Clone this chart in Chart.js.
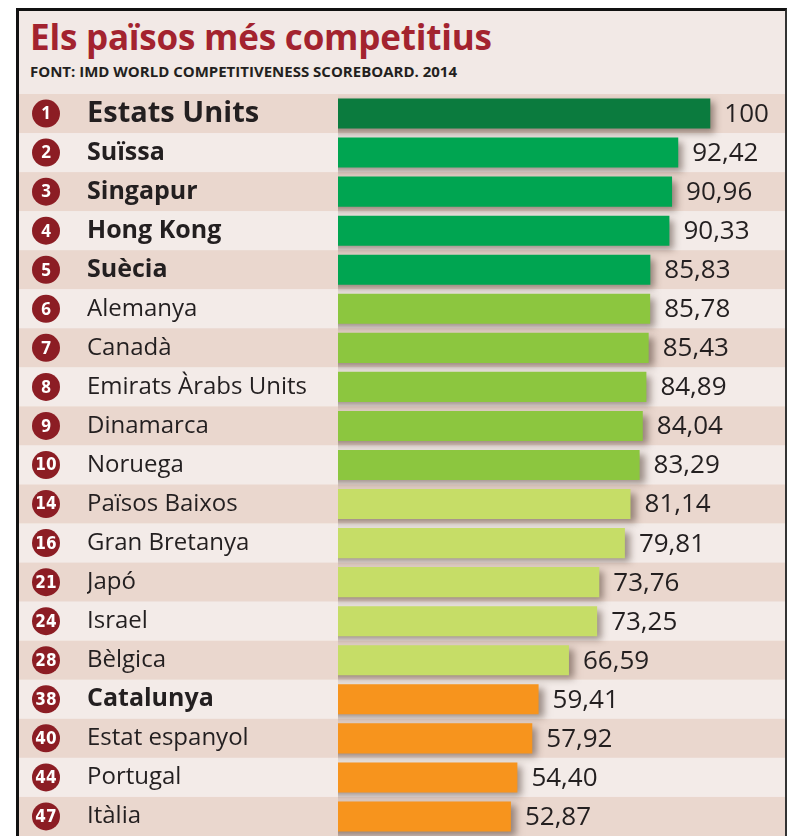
<!DOCTYPE html>
<html>
<head>
<meta charset="utf-8">
<script src="https://cdn.jsdelivr.net/npm/chart.js@4.4.1/dist/chart.umd.min.js"></script>
<style>
  html, body { margin: 0; padding: 0; background: #fff; }
  #frame {
    position: absolute; left: 16px; top: 8px;
    width: 766px; height: 900px;
    border-left: 3px solid #111; border-top: 3px solid #111; border-right: 2px solid #333;
    background: #f2e9e6;
  }
  #title {
    position: absolute; left: 11px; top: 8px;
    font: bold 35px "Open Sans", sans-serif; line-height: 36px;
    color: #a3232f; white-space: nowrap; letter-spacing: -0.2px;
  }
  #source {
    position: absolute; left: 11px; top: 52px;
    font: bold 15px "Open Sans", sans-serif; line-height: 16px;
    color: #231f20; white-space: nowrap;
  }
  #wrap { position: absolute; left: 0; top: 83px; width: 766px; height: 742px; }
</style>
</head>
<body>
<div id="frame">
  <div id="title">Els països més competitius</div>
  <div id="source">FONT: IMD WORLD COMPETITIVENESS SCOREBOARD. 2014</div>
  <div id="wrap"><canvas id="chart"></canvas></div>
</div>
<script>
// data
const ranks = [1, 2, 3, 4, 5, 6, 7, 8, 9, 10, 14, 16, 21, 24, 28, 38, 40, 44, 47];
const countries = ['Estats Units', 'Suïssa', 'Singapur', 'Hong Kong', 'Suècia',
  'Alemanya', 'Canadà', 'Emirats Àrabs Units', 'Dinamarca', 'Noruega',
  'Països Baixos', 'Gran Bretanya', 'Japó', 'Israel', 'Bèlgica',
  'Catalunya', 'Estat espanyol', 'Portugal', 'Itàlia'];
const scores = [100, 92.42, 90.96, 90.33, 85.83, 85.78, 85.43, 84.89, 84.04, 83.29,
  81.14, 79.81, 73.76, 73.25, 66.59, 59.41, 57.92, 54.40, 52.87];

// styles
const FONT = '"Open Sans", sans-serif';
const boldNames = ['Suïssa', 'Singapur', 'Hong Kong', 'Suècia', 'Catalunya'];
const barColors = ['#0b7b3e',
  '#00a551', '#00a551', '#00a551', '#00a551',
  '#8cc63f', '#8cc63f', '#8cc63f', '#8cc63f', '#8cc63f',
  '#c6dd67', '#c6dd67', '#c6dd67', '#c6dd67', '#c6dd67',
  '#f7941d', '#f7941d', '#f7941d', '#f7941d'];

function fmt(v) {
  return Number.isInteger(v) ? String(v) : v.toFixed(2).replace('.', ',');
}

const rowStripes = {
  id: 'rowStripes',
  beforeDraw(chart) {
    const { ctx, scales: { y } } = chart;
    const step = y.getPixelForValue(1) - y.getPixelForValue(0);
    ctx.save();
    countries.forEach((c, i) => {
      ctx.fillStyle = i % 2 === 0 ? '#ead7ce' : '#f3ebe8';
      ctx.fillRect(0, y.getPixelForValue(i) - step / 2, chart.width, step);
    });
    ctx.restore();
  }
};

const barShadow = {
  id: 'barShadow',
  beforeDatasetDraw(chart) {
    const ctx = chart.ctx;
    ctx.save();
    ctx.shadowColor = 'rgba(70, 50, 40, 0.5)';
    ctx.shadowBlur = 7;
    ctx.shadowOffsetX = 5;
    ctx.shadowOffsetY = 4;
  },
  afterDatasetDraw(chart) {
    chart.ctx.restore();
  }
};

const valueLabels = {
  id: 'valueLabels',
  afterDatasetsDraw(chart) {
    const ctx = chart.ctx;
    const meta = chart.getDatasetMeta(0);
    ctx.save();
    ctx.font = '26px ' + FONT;
    ctx.fillStyle = '#231f20';
    ctx.textAlign = 'left';
    ctx.textBaseline = 'middle';
    meta.data.forEach((bar, i) => {
      ctx.fillText(fmt(scores[i]), bar.x + 14, bar.y + 1);
    });
    ctx.restore();
  }
};

const rankBadges = {
  id: 'rankBadges',
  afterDraw(chart) {
    const { ctx, scales: { y } } = chart;
    ctx.save();
    ranks.forEach((r, i) => {
      const cy = y.getPixelForValue(i);
      ctx.beginPath();
      ctx.arc(27, cy, 14, 0, Math.PI * 2);
      ctx.fillStyle = '#8c1d24';
      ctx.fill();
      ctx.fillStyle = '#fff';
      ctx.textAlign = 'center';
      ctx.textBaseline = 'middle';
      ctx.font = r < 10 ? 'bold 17px ' + FONT : 'bold 17px "Liberation Sans Narrow", "DejaVu Sans Condensed", sans-serif';
      ctx.fillText(String(r), 27, cy + 1);
    });
    ctx.restore();
  }
};

new Chart(document.getElementById('chart'), {
  type: 'bar',
  data: {
    labels: countries,
    datasets: [{
      data: scores,
      backgroundColor: barColors,
      borderWidth: 0,
      categoryPercentage: 1,
      barPercentage: 0.77
    }]
  },
  options: {
    indexAxis: 'y',
    responsive: true,
    maintainAspectRatio: false,
    animation: false,
    layout: { padding: { left: 68, right: 7, top: 0, bottom: 0 } },
    plugins: {
      legend: { display: false },
      tooltip: { enabled: false }
    },
    scales: {
      x: { display: false, min: 12, max: 116 },
      y: {
        grid: { display: false },
        border: { display: false },
        afterFit: (scale) => {
          scale.width = 251;
          scale.paddingTop = 0;
          scale.paddingBottom = 0;
        },
        ticks: {
          autoSkip: false,
          crossAlign: 'far',
          padding: 0,
          color: '#231f20',
          font: (c) => {
            const name = countries[c.index];
            if (c.index === 0) return { family: FONT, size: 29, weight: 'bold' };
            if (boldNames.includes(name)) return { family: FONT, size: 25, weight: 'bold' };
            return { family: FONT, size: 24, weight: 'normal' };
          }
        }
      }
    }
  },
  plugins: [rowStripes, barShadow, valueLabels, rankBadges]
});
</script>
</body>
</html>
